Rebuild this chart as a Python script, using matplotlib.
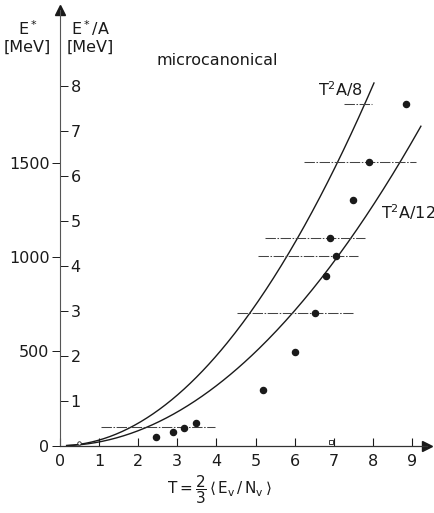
import numpy as np
import matplotlib
matplotlib.use("Agg")
import matplotlib.pyplot as plt

plt.rcParams['font.family'] = ['DejaVu Sans']
plt.rcParams['mathtext.fontset'] = 'dejavusans'

# ---- data ----
A = 238.8  # conversion E* = A * (E*/A)
T_pts = [2.46, 2.89, 3.18, 3.49, 5.20, 6.01, 6.51, 6.80, 7.06, 6.90, 7.50, 7.91, 8.85]
EA_pts = [0.19, 0.30, 0.40, 0.50, 1.23, 2.08, 2.94, 3.78, 4.22, 4.62, 5.47, 6.31, 7.59]

open_T = [0.49, 6.92]
open_EA = [0.06, 0.09]

bar_y = [0.41, 2.94, 4.22, 4.62, 6.31, 7.59]
bar_lo = [1.05, 4.53, 5.07, 5.24, 6.24, 7.27]
bar_hi = [3.97, 7.50, 7.61, 7.79, 9.10, 7.99]

curve_div = [8, 12]
curve_Tmax = [8.03, 9.23]
curve_labels = ['T$^2$A/8', 'T$^2$A/12']

x_ticks = [0, 1, 2, 3, 4, 5, 6, 7, 8, 9]
ea_ticks = [1, 2, 3, 4, 5, 6, 7, 8]
e_ticks = [0, 500, 1000, 1500]

# ---- figure ----
W, H = 434, 513
fig = plt.figure(figsize=(W / 100, H / 100), dpi=100)
x0, y0 = 60, 445.7   # pixel of origin
pxx, pxy = 39.1, 45.0  # pixels per unit
xr, yt = 427, 10
ax = fig.add_axes([x0 / W, (H - y0) / H, (xr - x0) / W, (y0 - yt) / H])
ax.set_xlim(0, (xr - x0) / pxx)
ax.set_ylim(0, (y0 - yt) / pxy)

ink = '#1a1a1a'
for d, tm in zip(curve_div, curve_Tmax):
    t = np.linspace(0.17, tm, 200)
    ax.plot(t, t ** 2 / d, color=ink, lw=1.0)

ax.hlines(bar_y, bar_lo, bar_hi, colors='#444444', linewidth=0.75,
          linestyles=[(0, (10, 1.5, 1.5, 1.5))])
ax.plot(T_pts, EA_pts, 'o', color=ink, ms=4.4, mec=ink)
ax.plot(open_T[:1], open_EA[:1], 'o', mfc='white', mec=ink, ms=2.5, mew=0.6)
ax.plot(open_T[1:], open_EA[1:], 's', mfc='white', mec=ink, ms=2.8, mew=0.6)

# spines
for s in ['top', 'left']:
    ax.spines[s].set_visible(False)
ax.spines['right'].set_position(('axes', 0))
ax.spines['right'].set_color('#555555')
ax.spines['bottom'].set_color('#333333')
ax.spines['right'].set_linewidth(0.8)
ax.spines['bottom'].set_linewidth(0.9)

# arrows
ax.plot(1, 0, '>', color=ink, ms=7, transform=ax.transAxes, clip_on=False)
ax.plot(0, 1, '^', color=ink, ms=7, transform=ax.transAxes, clip_on=False)

# x ticks
ax.set_xticks(x_ticks)
ax.set_xticklabels([str(v) for v in x_ticks])
ax.tick_params(axis='x', direction='in', length=5.5, width=0.8, pad=6,
               labelsize=11.5, colors=ink)

# E*/A ticks (right side of the axis line)
ax.yaxis.tick_right()
ax.set_yticks(ea_ticks)
ax.set_yticklabels([str(v) for v in ea_ticks])
ax.tick_params(axis='y', direction='out', length=5.5, width=0.7, pad=2,
               labelsize=11.5, colors=ink)

# E* ticks on the left
sec = ax.secondary_yaxis('left', functions=(lambda y: y * A, lambda e: e / A))
sec.set_yticks(e_ticks)
sec.set_yticklabels([str(v) for v in e_ticks])
sec.tick_params(axis='y', direction='out', length=5.5, width=0.7, pad=2,
                labelsize=11.5, colors=ink)
sec.spines['left'].set_visible(False)

# curve labels
ax.text(6.59, 7.77, curve_labels[0], fontsize=11.5, ha='left', va='baseline', color=ink)
ax.text(8.21, 5.03, curve_labels[1], fontsize=11.5, ha='left', va='baseline', color=ink)
ax.text(2.46, 8.46, 'microcanonical', fontsize=11.5, ha='left', va='baseline', color=ink)

def fp(x, y):
    return x / W, 1 - y / H

fig.text(*fp(28, 35), 'E$^*$', fontsize=11.5, ha='center', va='baseline', color=ink)
fig.text(*fp(27, 39.5), '[MeV]', fontsize=11.5, ha='center', va='top', color=ink)
fig.text(*fp(90, 35), 'E$^*$/A', fontsize=11.5, ha='center', va='baseline', color=ink)
fig.text(*fp(90, 39.5), '[MeV]', fontsize=11.5, ha='center', va='top', color=ink)
fig.text(*fp(219, 490),
         r'$\mathrm{T}=\dfrac{2}{3}\,\langle\,\mathrm{E}_\mathrm{v}\,/\,\mathrm{N}_\mathrm{v}\,\rangle$',
         fontsize=11, ha='center', va='center', color=ink)

fig.savefig('out.png', dpi=100)
